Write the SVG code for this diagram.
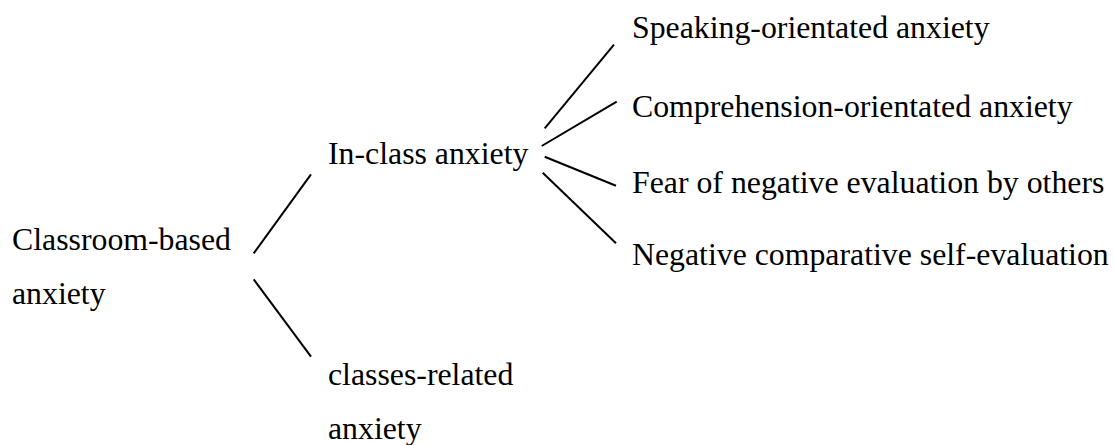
<svg xmlns="http://www.w3.org/2000/svg" width="1113" height="445" viewBox="0 0 1113 445">
<style>
text{font-family:"Liberation Serif","Times New Roman",serif;font-size:31.8px;fill:#000}
line{stroke:#000;stroke-width:2}
</style>
<rect width="1113" height="445" fill="#fff"/>
<g id="connectors">
<line x1="253.7" y1="253.3" x2="311" y2="174.3"/>
<line x1="253.7" y1="279.3" x2="311" y2="356.7"/>
<line x1="544.7" y1="128.3" x2="614" y2="44.7"/>
<line x1="541.7" y1="146" x2="616.7" y2="101.7"/>
<line x1="544.7" y1="156.7" x2="616" y2="185.7"/>
<line x1="542.7" y1="172.7" x2="616" y2="243.3"/>
</g>
<g id="root"><text x="12" y="250">Classroom-based</text><text x="12" y="304">anxiety</text></g>
<g id="inclass"><text x="328" y="164">In-class anxiety</text></g>
<g id="classes"><text x="328" y="385">classes-related</text><text x="328" y="439">anxiety</text></g>
<g id="speaking"><text x="632" y="38.3">Speaking-orientated anxiety</text></g>
<g id="comprehension"><text x="632" y="116.7">Comprehension-orientated anxiety</text></g>
<g id="fear"><text x="632" y="193.3">Fear of negative evaluation by others</text></g>
<g id="negative"><text x="632" y="265">Negative comparative self-evaluation</text></g>
</svg>
